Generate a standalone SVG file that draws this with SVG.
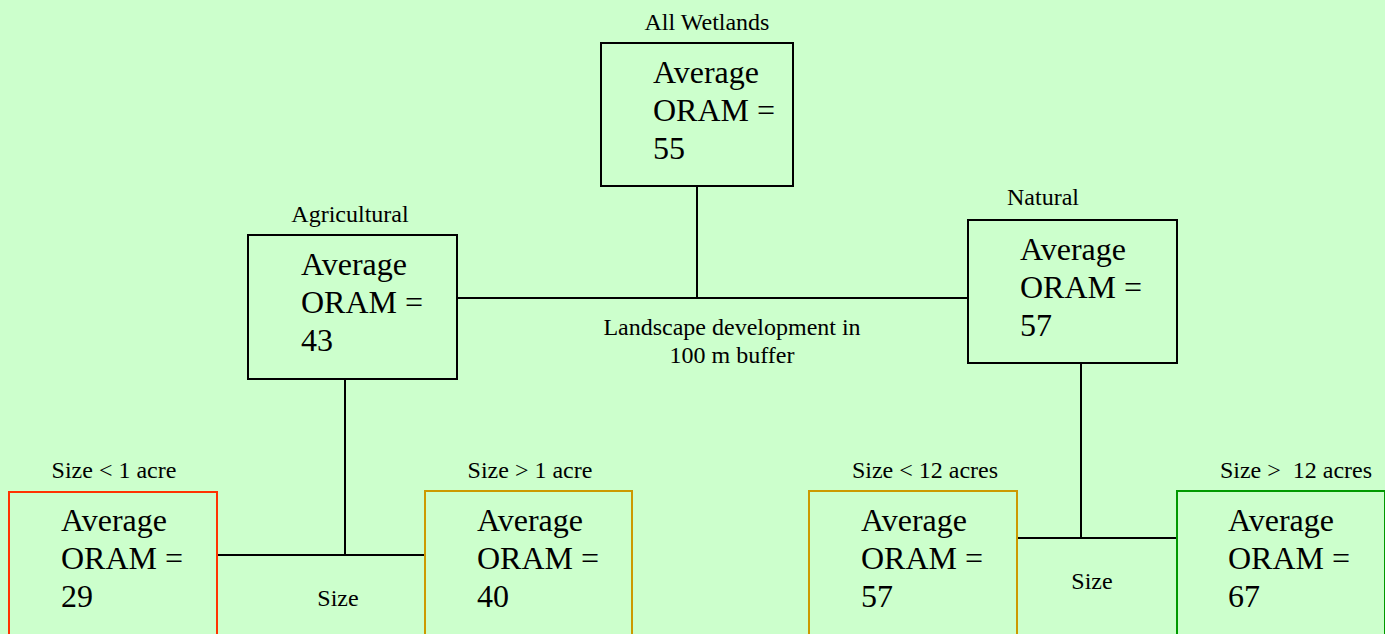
<svg xmlns="http://www.w3.org/2000/svg" width="1385" height="634" viewBox="0 0 1385 634">
<style>
.bg{fill:#CCFFCC}
.box{fill:#CCFFCC;stroke:#000;stroke-width:2}
.red{stroke:#FF3300}
.gold{stroke:#CC9900}
.green{stroke:#009900}
.big{font-family:"Liberation Serif","Times New Roman",serif;font-size:32px;fill:#000}
.sm{font-family:"Liberation Serif","Times New Roman",serif;font-size:24px;fill:#000;text-anchor:middle}
.ln{stroke:#000;stroke-width:2;fill:none}
</style>
<rect class="bg" x="0" y="0" width="1385" height="634"/>
<g id="connectors">
<path class="ln" d="M697 186V298M457 298H968"/>
<path class="ln" d="M345 379V555M217 555H424"/>
<path class="ln" d="M1081 363V538M1017 538H1176"/>
<text class="sm" x="732" y="335">Landscape development in</text>
<text class="sm" x="732" y="363">100 m buffer</text>
<text class="sm" x="338" y="606">Size</text>
<text class="sm" x="1092" y="589">Size</text>
</g>
<g id="all">
<text class="sm" x="707" y="30">All Wetlands</text>
<rect class="box" x="601" y="43" width="192" height="143"/>
<text class="big" x="653" y="83">Average</text>
<text class="big" x="653" y="121">ORAM =</text>
<text class="big" x="653" y="159">55</text>
</g>
<g id="agri">
<text class="sm" x="350" y="222">Agricultural</text>
<rect class="box" x="248" y="235" width="209" height="144"/>
<text class="big" x="301" y="275">Average</text>
<text class="big" x="301" y="313">ORAM =</text>
<text class="big" x="301" y="351">43</text>
</g>
<g id="natural">
<text class="sm" x="1043" y="205">Natural</text>
<rect class="box" x="968" y="220" width="209" height="143"/>
<text class="big" x="1020" y="260">Average</text>
<text class="big" x="1020" y="298">ORAM =</text>
<text class="big" x="1020" y="336">57</text>
</g>
<g id="s1">
<text class="sm" x="114" y="478">Size &lt; 1 acre</text>
<rect class="box red" x="9" y="492" width="208" height="150"/>
<text class="big" x="61" y="531">Average</text>
<text class="big" x="61" y="569">ORAM =</text>
<text class="big" x="61" y="607">29</text>
</g>
<g id="s2">
<text class="sm" x="530" y="478">Size &gt; 1 acre</text>
<rect class="box gold" x="425" y="491" width="207" height="150"/>
<text class="big" x="477" y="531">Average</text>
<text class="big" x="477" y="569">ORAM =</text>
<text class="big" x="477" y="607">40</text>
</g>
<g id="s3">
<text class="sm" x="925" y="478">Size &lt; 12 acres</text>
<rect class="box gold" x="809" y="491" width="208" height="150"/>
<text class="big" x="861" y="531">Average</text>
<text class="big" x="861" y="569">ORAM =</text>
<text class="big" x="861" y="607">57</text>
</g>
<g id="s4">
<text class="sm" x="1296" y="478" xml:space="preserve">Size &gt;  12 acres</text>
<rect class="box green" x="1177" y="491" width="208" height="150"/>
<text class="big" x="1228" y="531">Average</text>
<text class="big" x="1228" y="569">ORAM =</text>
<text class="big" x="1228" y="607">67</text>
</g>
</svg>
